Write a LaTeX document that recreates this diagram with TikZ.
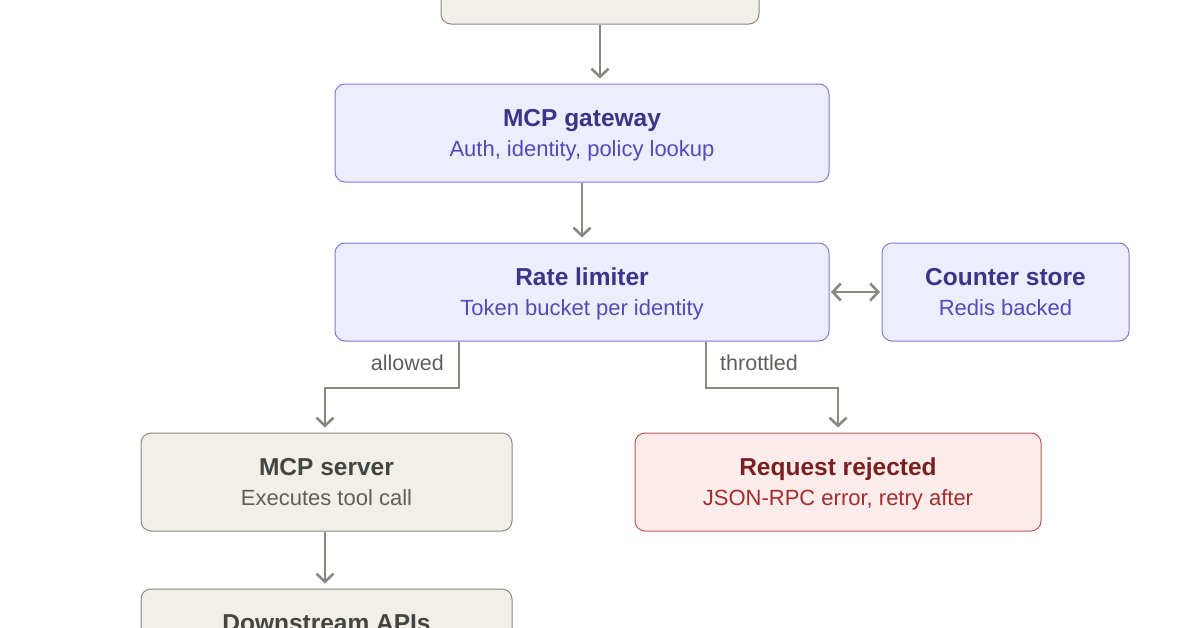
\documentclass[tikz,border=0pt]{standalone}
\usepackage{fontspec}
\setmainfont{Liberation Sans}
\usetikzlibrary{arrows.meta}
\definecolor{gfill}{HTML}{F1EFE8}
\definecolor{gdraw}{HTML}{8A8984}
\definecolor{gtitle}{HTML}{444441}
\definecolor{gsub}{HTML}{5F5E5A}
\definecolor{pfill}{HTML}{EEEDFE}
\definecolor{pdraw}{HTML}{7F77DD}
\definecolor{ptitle}{HTML}{3C3489}
\definecolor{psub}{HTML}{534AB7}
\definecolor{rfill}{HTML}{FCEBEB}
\definecolor{rdraw}{HTML}{C25555}
\definecolor{rtitle}{HTML}{791F1F}
\definecolor{rsub}{HTML}{A32D2D}
\definecolor{arr}{HTML}{888780}
\tikzset{
  box/.style={rounded corners=10pt, line width=1pt, inner sep=0pt, minimum height=98pt},
  gbox/.style={box, fill=gfill, draw=gdraw},
  pbox/.style={box, fill=pfill, draw=pdraw},
  rbox/.style={box, fill=rfill, draw=rdraw},
  ttl/.style={anchor=base, inner sep=0pt, font=\fontsize{24.5}{28}\selectfont\bfseries},
  sub/.style={anchor=base, inner sep=0pt, font=\fontsize{22}{26}\selectfont},
  elab/.style={anchor=base, inner sep=0pt, text=gsub, font=\fontsize{21.5}{26}\selectfont},
  tip/.tip={Straight Barb[length=8pt,width=17pt,line width=2.6pt]},
  conn/.style={draw=arr, line width=2.6pt, -tip, shorten >=5pt},
  conn2/.style={draw=arr, line width=2.6pt, tip-tip, shorten >=1.5pt, shorten <=1.5pt}
}
\begin{document}
\begin{tikzpicture}[x=1pt,y=-1pt]
\useasboundingbox (0,0) rectangle (1200,627);
\clip (0,0) rectangle (1200,627);
% boxes
\node[gbox, minimum width=318pt] (top) at (600,-25) {};
\node[pbox, minimum width=494pt] (gw) at (582,133) {};
\node[pbox, minimum width=494pt] (rl) at (582,292) {};
\node[pbox, minimum width=247pt] (cs) at (1005.5,292) {};
\node[gbox, minimum width=371pt] (srv) at (326.5,482) {};
\node[rbox, minimum width=406pt] (rej) at (838,482) {};
\node[gbox, minimum width=371pt] (ds) at (326.5,638) {};
% texts
\node[ttl, text=ptitle] (gwt) at (582,126) {MCP gateway};
\node[sub, text=psub] (gws) at (582,156) {Auth, identity, policy lookup};
\node[ttl, text=ptitle] (rlt) at (582,285) {Rate limiter};
\node[sub, text=psub] (rls) at (582,315) {Token bucket per identity};
\node[ttl, text=ptitle] (cst) at (1005.5,285) {Counter store};
\node[sub, text=psub] (css) at (1005.5,315) {Redis backed};
\node[ttl, text=gtitle] (srvt) at (326.5,475) {MCP server};
\node[sub, text=gsub] (srvs) at (326.5,505) {Executes tool call};
\node[ttl, text=rtitle] (rejt) at (838,475) {Request rejected};
\node[sub, text=rsub] (rejs) at (838,505) {JSON-RPC error, retry after};
\node[ttl, text=gtitle] (dst) at (326.5,631) {Downstream APIs};
% connectors
\draw[conn] (top.south) -- (top.south |- gw.north);
\draw[conn] (gw.south) -- (rl.north);
\draw[conn2] (rl.east) -- (cs.west);
\draw[conn] (rl.south -| 459,0) -- (459,388) -- (325,388) -- (srv.north -| 325,0);
\draw[conn] (rl.south -| 706,0) -- (706,388) -- (838,388) -- (rej.north);
\draw[conn] (srv.south -| 325,0) -- (ds.north -| 325,0);
\node[elab, anchor=base east] (la) at (444,370) {allowed};
\node[elab, anchor=base west] (lt) at (720,370) {throttled};
\end{tikzpicture}
\end{document}
